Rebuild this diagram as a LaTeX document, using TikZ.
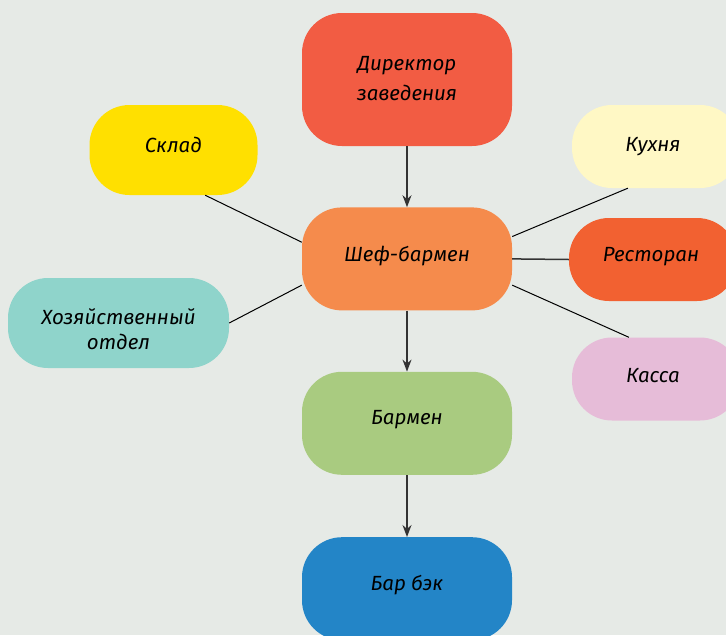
\documentclass[tikz,border=0pt]{standalone}
\usepackage{fontspec}
\setmainfont{Fira Sans}
\usetikzlibrary{arrows.meta}
\usetikzlibrary{positioning}

\definecolor{bgcol}{HTML}{E6EAE6}
\definecolor{dircol}{HTML}{F25C43}
\definecolor{shefcol}{HTML}{F58B4C}
\definecolor{skladcol}{HTML}{FFE000}
\definecolor{kuhcol}{HTML}{FFF8C5}
\definecolor{restcol}{HTML}{F26131}
\definecolor{hozcol}{HTML}{8FD4CB}
\definecolor{kassacol}{HTML}{E6BCD8}
\definecolor{barcol}{HTML}{A9CB80}
\definecolor{bekcol}{HTML}{2385C7}
\newcommand{\boxfont}{\fontsize{20.5}{33}\selectfont\itshape}

\begin{document}
\begin{tikzpicture}[x=1pt, y=-1pt, node distance=61pt,
    box/.style={rounded corners=40pt, inner sep=0pt, align=center, font=\boxfont, text depth=11pt},
    big/.style={box, minimum width=210pt, minimum height=103pt},
    small/.style={box, minimum width=168pt, minimum height=83pt},
    link/.style={black, line width=1pt},
    down/.style={draw=black!80, line width=1.5pt, -{Stealth[length=12pt, width=9pt]}}]
          \useasboundingbox (0,0) rectangle (726,635);
          \clip (0,0) rectangle (726,635);
          \fill[bgcol] (0,0) rectangle (726,635);

          % main column
          \node[big, fill=dircol, minimum height=133pt, text height=53pt, text depth=12pt] (dir) at (407,79.5) {Директор\\[-3pt]заведения};
          \node[big, fill=shefcol, below=of dir] (shef) {Шеф-бармен};
          \node[big, fill=barcol, below=of shef] (barmen) {Бармен};
          \node[big, fill=bekcol, below=62pt of barmen] (barbek) {Бар бэк};

          % side departments
          \node[small, fill=skladcol, minimum width=168pt, minimum height=90pt] (sklad) at (173.5,150) {Склад};
          \node[small, fill=hozcol, minimum width=221pt, minimum height=90pt, text height=64pt, text depth=12pt] (hoz) at (118.5,323) {Хозяйственный\\[-8pt]отдел};
          \node[small, fill=kuhcol, text depth=4pt] (kuhnya) at (656,146.5) {\hspace*{-6pt}Кухня};
          \node[small, fill=restcol] (restoran) at (653,259.5) {\hspace*{-4pt}Ресторан};
          \node[small, fill=kassacol, text depth=7pt] (kassa) at (656,379) {\hspace*{-6pt}Касса};

          \draw[down] (dir) -- (shef);
          \draw[down] (shef) -- (barmen);
          \draw[down] (barmen) -- (barbek);

          \draw[link] (sklad.-55) -- (shef.171);
          \draw[link] (hoz.east) -- (shef.194);
          \draw[link] (shef.12.6) -- (kuhnya.-124.6);
          \draw[link, draw=black!80, line width=1.5pt] (shef.east) -- (restoran.west);
          \draw[link] (shef.-14.3) -- (kassa.123);
        \end{tikzpicture}
\end{document}
